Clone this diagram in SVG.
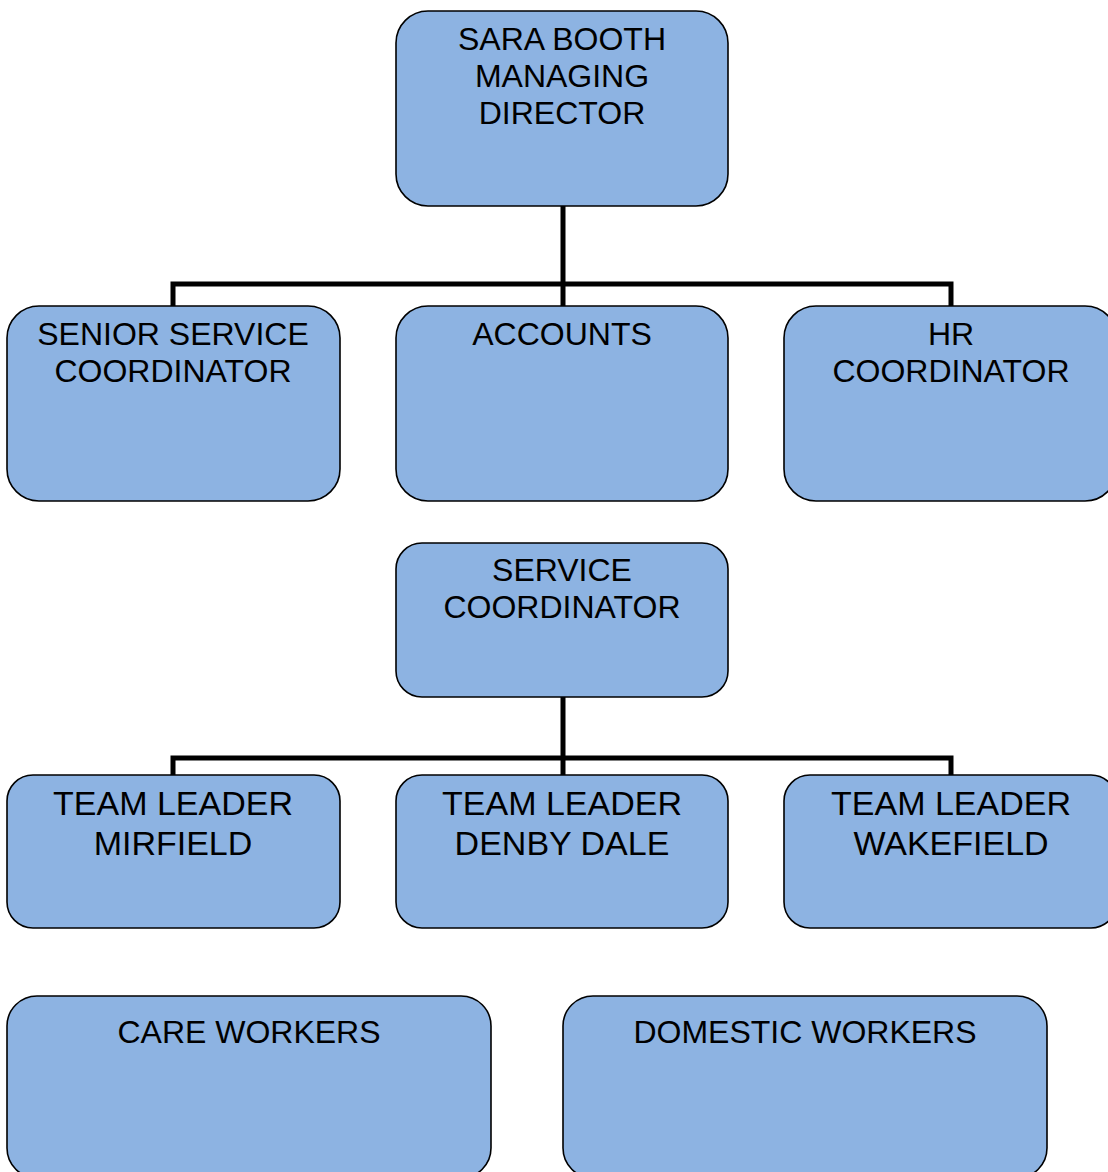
<svg xmlns="http://www.w3.org/2000/svg" width="1108" height="1172" viewBox="0 0 1108 1172">
<style>
.box{fill:#8DB3E2;stroke:#000;stroke-width:1.6}
.t{font-family:"Liberation Sans",Arial,sans-serif;font-size:32px;fill:#000;text-anchor:middle}
.t2{font-family:"Liberation Sans",Arial,sans-serif;font-size:34px;fill:#000;text-anchor:middle}
.c{fill:none;stroke:#000;stroke-width:5}
</style>
<rect width="1108" height="1172" fill="#fff"/>
<g id="connectors">
<path class="c" d="M563 206 V284 M173 306 V284 H951 V306 M563 284 V306"/>
<path class="c" d="M563 697 V758 M173 775 V758 H951 V775 M563 758 V775"/>
</g>
<g id="md"><rect class="box" x="396" y="11" width="332" height="195" rx="32"/>
<text class="t" x="562" y="50">SARA BOOTH</text><text class="t" x="562" y="87">MANAGING</text><text class="t" x="562" y="124">DIRECTOR</text></g>
<g id="ssc"><rect class="box" x="7" y="306" width="333" height="195" rx="32"/>
<text class="t" x="173" y="345">SENIOR SERVICE</text><text class="t" x="173" y="382">COORDINATOR</text></g>
<g id="accounts"><rect class="box" x="396" y="306" width="332" height="195" rx="32"/>
<text class="t" x="562" y="345">ACCOUNTS</text></g>
<g id="hr"><rect class="box" x="784" y="306" width="333" height="195" rx="32"/>
<text class="t" x="951" y="345">HR</text><text class="t" x="951" y="382">COORDINATOR</text></g>
<g id="sc"><rect class="box" x="396" y="543" width="332" height="154" rx="26"/>
<text class="t" x="562" y="581">SERVICE</text><text class="t" x="562" y="618">COORDINATOR</text></g>
<g id="tl-mirfield"><rect class="box" x="7" y="775" width="333" height="153" rx="26"/>
<text class="t2" x="173" y="815">TEAM LEADER</text><text class="t2" x="173" y="855">MIRFIELD</text></g>
<g id="tl-denby"><rect class="box" x="396" y="775" width="332" height="153" rx="26"/>
<text class="t2" x="562" y="815">TEAM LEADER</text><text class="t2" x="562" y="855">DENBY DALE</text></g>
<g id="tl-wakefield"><rect class="box" x="784" y="775" width="333" height="153" rx="26"/>
<text class="t2" x="951" y="815">TEAM LEADER</text><text class="t2" x="951" y="855">WAKEFIELD</text></g>
<g id="care"><rect class="box" x="7" y="996" width="484" height="182" rx="30"/>
<text class="t" x="249" y="1043">CARE WORKERS</text></g>
<g id="domestic"><rect class="box" x="563" y="996" width="484" height="182" rx="30"/>
<text class="t" x="805" y="1043">DOMESTIC WORKERS</text></g>
</svg>
